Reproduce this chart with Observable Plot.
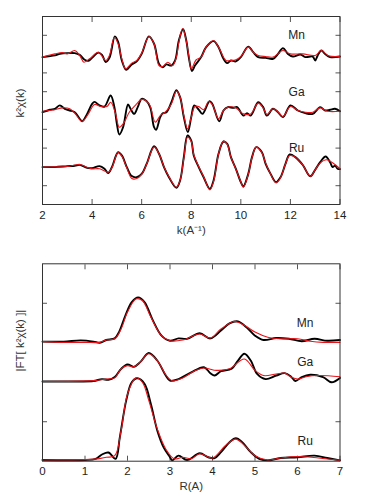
<!DOCTYPE html>
<html><head><meta charset="utf-8">
<script src="https://cdn.jsdelivr.net/npm/d3@7"></script>
<script src="https://cdn.jsdelivr.net/npm/@observablehq/plot@0.6"></script>
<style>
body{margin:0;background:#fff;}
#chart{position:relative;width:371px;height:503px;font-family:"Liberation Sans",Arial,sans-serif;}
#chart svg{position:absolute;left:0;}
</style></head><body><div id="chart"></div>
<script>
// ---------- labels / ticks ----------
const seriesNames = ["Mn", "Ga", "Ru"];
const kTicks = [2, 4, 6, 8, 10, 12, 14];
const chiTicks = [1, 3, 4, 6, 7, 9];
const rTicks = [0, 1, 2, 3, 4, 5, 6, 7];
const ftTicks = [1, 4];
const chiOffsets = [8, 5, 2];
const ftOffsets = [3, 2, 0];
const chiLabelK = 12.25;
const ftLabelR = 6.18;

// ---------- k^2 chi(k): [k, value] (experiment = black, fit = red) ----------
const mnChiExp = [[2,-0.16],[2.5,-0.07],[2.7,0.01],[3.0,0.05],[3.3,0.05],[3.5,-0.04],[3.7,-0.30],[3.85,-0.36],[4.0,-0.20],[4.25,0.08],[4.4,-0.04],[4.55,-0.42],[4.7,-0.20],[4.92,0.94],[5.05,0.65],[5.2,-0.34],[5.38,-0.84],[5.6,-0.55],[5.8,-0.39],[6.0,0.01],[6.29,0.94],[6.5,0.55],[6.7,-0.52],[6.85,-0.70],[7.0,-0.55],[7.2,-0.61],[7.35,-0.34],[7.5,0.72],[7.67,1.32],[7.8,0.72],[7.9,-0.16],[8.03,-0.90],[8.15,-0.61],[8.4,-0.16],[8.6,0.37],[8.9,0.69],[9.1,0.37],[9.3,-0.25],[9.45,-0.48],[9.6,-0.34],[9.8,-0.39],[10.0,-0.16],[10.3,0.40],[10.5,0.10],[10.7,-0.16],[11.0,-0.20],[11.3,-0.25],[11.5,0.01],[11.7,0.32],[11.9,0.01],[12.1,-0.13],[12.4,-0.02],[12.6,-0.16],[12.9,-0.13],[13.0,-0.34],[13.1,-0.07],[13.25,0.19],[13.4,0.01],[13.6,-0.16],[14,-0.13]];
const mnChiFit = [[2,-0.16],[2.5,0.01],[2.8,0.08],[3.0,0.01],[3.3,0.19],[3.5,-0.07],[3.67,-0.43],[3.9,-0.25],[4.25,0.10],[4.55,-0.34],[4.7,-0.07],[4.9,0.90],[5.05,0.55],[5.2,-0.25],[5.35,-0.78],[5.6,-0.48],[5.8,-0.34],[6.0,0.05],[6.3,0.94],[6.5,0.55],[6.7,-0.61],[6.85,-0.66],[7.05,-0.43],[7.25,-0.61],[7.4,-0.16],[7.5,0.63],[7.65,1.36],[7.8,0.69],[7.9,-0.07],[8.0,-0.78],[8.2,-0.30],[8.4,-0.16],[8.6,0.37],[8.9,0.72],[9.1,0.37],[9.4,-0.34],[9.6,-0.34],[9.8,-0.30],[10.0,-0.13],[10.3,0.37],[10.5,0.10],[10.7,-0.07],[11.0,-0.13],[11.3,-0.16],[11.7,0.19],[12.0,0.01],[12.5,0.01],[13.0,-0.07],[13.25,0.19],[13.5,-0.07],[14,-0.13]];
const gaChiExp = [[2,-0.09],[2.3,0.04],[2.5,0.09],[2.7,0.27],[2.9,0.09],[3.1,0],[3.3,-0.09],[3.5,-0.44],[3.6,-0.57],[3.8,-0.18],[4.0,0.35],[4.1,0.46],[4.3,0.27],[4.5,0.21],[4.75,0.80],[4.9,0.18],[5.0,-0.71],[5.1,-1.28],[5.25,-0.89],[5.45,0.32],[5.55,0.09],[5.7,-0.18],[5.85,0.21],[6.0,0.62],[6.2,0.50],[6.35,0.15],[6.5,-0.89],[6.58,-1.03],[6.75,-0.35],[6.85,-0.15],[7.0,-0.09],[7.2,0.44],[7.4,1.08],[7.55,0.71],[7.7,-0.35],[7.86,-1.15],[8.0,-0.35],[8.12,0.27],[8.3,0.05],[8.45,-0.18],[8.74,0.50],[8.85,0.35],[9.13,-0.58],[9.3,0],[9.48,0.18],[9.7,0.14],[9.85,0.18],[10.1,-0.27],[10.25,-0.14],[10.4,-0.27],[10.7,0.44],[10.9,0.18],[11.05,-0.27],[11.3,0.09],[11.5,-0.09],[11.7,-0.35],[12.0,0.27],[12.3,0],[12.6,-0.14],[12.9,-0.18],[13.2,0.18],[13.4,0],[13.6,0.04],[13.8,0.09],[14,-0.04]];
const gaChiFit = [[2,-0.04],[2.5,0.04],[2.8,0.14],[3.1,0.09],[3.3,-0.14],[3.6,-0.57],[3.85,-0.18],[4.1,0.32],[4.35,0.21],[4.6,0.21],[4.75,0.44],[4.95,-0.18],[5.1,-0.89],[5.3,-0.62],[5.5,-0.09],[5.8,0.35],[6.0,0.59],[6.3,0.35],[6.55,-0.62],[6.75,-0.27],[6.95,-0.09],[7.2,0.35],[7.4,1.03],[7.55,0.71],[7.7,-0.27],[7.85,-0.98],[8.0,-0.35],[8.15,0.21],[8.3,0.21],[8.5,0.04],[8.7,0.48],[8.85,0.32],[9.1,-0.44],[9.3,0],[9.5,0.18],[9.8,0.14],[10.1,-0.18],[10.4,-0.18],[10.7,0.39],[10.9,0.14],[11.05,-0.21],[11.3,0.09],[11.5,-0.09],[11.7,-0.32],[12.0,0.21],[12.3,0],[12.6,-0.09],[12.9,-0.09],[13.2,0.14],[13.5,-0.04],[14,-0.04]];
const ruChiExp = [[2,-0.01],[2.5,-0.01],[3.0,0.04],[3.3,0.06],[3.5,0.11],[3.8,-0.05],[4.0,-0.07],[4.3,0.04],[4.5,-0.10],[4.65,-0.33],[4.8,-0.01],[5.05,0.78],[5.2,0.61],[5.4,-0.01],[5.6,-0.49],[5.8,-0.55],[6.0,-0.37],[6.2,0.16],[6.5,1.10],[6.7,0.70],[6.9,-0.01],[7.1,-0.55],[7.4,-1.11],[7.55,-0.72],[7.7,0.52],[7.85,1.67],[8.0,1.40],[8.1,0.61],[8.3,-0.01],[8.5,-0.55],[8.75,-1.17],[8.9,-0.72],[9.1,0.70],[9.3,1.35],[9.45,1.23],[9.6,0.52],[9.8,-0.10],[10.0,-0.81],[10.1,-1.04],[10.3,-0.37],[10.45,0.52],[10.62,1.05],[10.85,0.78],[11.0,0.16],[11.2,-0.37],[11.42,-0.81],[11.6,-0.55],[11.8,0.16],[11.97,0.66],[12.2,0.52],[12.5,0.10],[12.8,-0.50],[13.0,-0.15],[13.2,0.25],[13.42,0.55],[13.6,0.25],[13.7,-0.01],[13.8,0.07],[13.9,-0.10],[14,-0.12]];
const ruChiFit = [[2,-0.01],[2.5,0.0],[3.0,0.02],[3.5,0.13],[3.8,-0.02],[4.0,-0.10],[4.3,-0.10],[4.65,-0.28],[4.8,-0.05],[5.05,0.78],[5.2,0.58],[5.4,-0.05],[5.6,-0.62],[5.8,-0.62],[6.0,-0.40],[6.2,0.14],[6.5,1.05],[6.7,0.70],[6.9,0.0],[7.1,-0.52],[7.4,-1.08],[7.55,-0.72],[7.7,0.45],[7.85,1.58],[8.0,1.35],[8.1,0.65],[8.3,0.02],[8.5,-0.52],[8.75,-1.22],[8.9,-0.78],[9.1,0.68],[9.3,1.37],[9.45,1.20],[9.6,0.52],[9.8,-0.12],[10.0,-0.80],[10.1,-1.08],[10.3,-0.40],[10.45,0.50],[10.62,1.05],[10.85,0.75],[11.0,0.20],[11.2,-0.38],[11.42,-0.85],[11.6,-0.58],[11.8,0.15],[11.97,0.60],[12.2,0.52],[12.5,0.10],[12.8,-0.50],[13.0,-0.15],[13.2,0.20],[13.45,0.38],[13.7,0.22],[14,-0.10]];

// ---------- |FT| : [R, value] ----------
const mnFtExp = [[0,0.03],[0.5,0.03],[0.9,0.06],[1.2,0.03],[1.35,0.0],[1.5,0.07],[1.7,0.11],[1.8,0.27],[1.95,0.69],[2.1,1.03],[2.25,1.15],[2.4,1.03],[2.6,0.56],[2.8,0.18],[3.0,0.05],[3.2,0.11],[3.4,0.10],[3.7,0.24],[3.95,0.11],[4.2,0.31],[4.4,0.49],[4.6,0.54],[4.8,0.39],[5.0,0.18],[5.2,0.07],[5.5,0.12],[5.8,0.10],[6.1,0.04],[6.4,0.10],[6.7,0.05],[7,0.07]];
const mnFtFit = [[0,0.03],[0.5,0.01],[1.0,0.01],[1.35,0.01],[1.5,0.07],[1.7,0.10],[1.85,0.35],[2.0,0.78],[2.2,1.11],[2.35,1.07],[2.55,0.65],[2.8,0.18],[3.0,0.05],[3.3,0.07],[3.7,0.22],[3.95,0.12],[4.2,0.35],[4.5,0.54],[4.6,0.52],[4.8,0.41],[5.0,0.27],[5.3,0.14],[5.6,0.10],[6.0,0.10],[6.3,0.04],[6.6,0.01],[7,0.01]];
const gaFtExp = [[0,0.02],[0.8,0.02],[1.2,0.03],[1.4,0.08],[1.55,0.06],[1.7,0.13],[1.85,0.34],[2.0,0.45],[2.15,0.39],[2.3,0.51],[2.5,0.74],[2.7,0.55],[2.9,0.17],[3.0,0.04],[3.2,0.08],[3.5,0.25],[3.8,0.38],[3.95,0.23],[4.05,0.17],[4.2,0.28],[4.45,0.34],[4.6,0.55],[4.75,0.72],[4.9,0.55],[5.05,0.21],[5.25,0.08],[5.5,0.17],[5.7,0.23],[5.85,0.14],[5.95,0.03],[6.1,0.13],[6.3,0.19],[6.6,0.13],[6.8,0.0],[7,0.11]];
const gaFtFit = [[0,0.02],[1.2,0.04],[1.5,0.08],[1.7,0.11],[1.85,0.34],[2.0,0.42],[2.15,0.39],[2.3,0.51],[2.5,0.72],[2.7,0.55],[2.9,0.19],[3.05,0.04],[3.3,0.11],[3.6,0.30],[3.8,0.36],[4.1,0.30],[4.4,0.34],[4.75,0.59],[5.0,0.30],[5.2,0.17],[5.5,0.21],[5.7,0.23],[5.85,0.13],[6.0,0.08],[6.2,0.14],[6.5,0.17],[7,0.14]];
const ruFtExp = [[0,0.03],[1.0,0.03],[1.25,0.06],[1.4,0.17],[1.55,0.22],[1.72,0.06],[1.82,0.61],[1.97,1.54],[2.1,2.0],[2.23,2.1],[2.4,1.96],[2.55,1.45],[2.7,0.78],[2.85,0.35],[3.0,0.10],[3.05,0.02],[3.2,0.14],[3.4,0.03],[3.7,0.20],[3.9,0.10],[4.05,0.08],[4.2,0.23],[4.4,0.48],[4.55,0.58],[4.7,0.48],[4.9,0.23],[5.1,0.06],[5.3,0.02],[5.6,0.08],[6.0,0.10],[6.4,0.14],[6.7,0.08],[7.0,0.02]];
const ruFtFit = [[0,0.03],[1.3,0.06],[1.5,0.10],[1.7,0.14],[1.85,0.78],[2.0,1.70],[2.2,2.11],[2.35,2.0],[2.5,1.54],[2.7,0.82],[2.9,0.31],[3.1,0.06],[3.3,0.10],[3.5,0.06],[3.7,0.19],[4.0,0.08],[4.3,0.39],[4.55,0.56],[4.8,0.35],[5.0,0.14],[5.3,0.03],[5.6,0.08],[6.0,0.12],[6.5,0.08],[7.0,0.02]];

// ---------- build ----------
function rows(pairs, offset, name, kind) {
  return pairs.map(([x, v]) => ({x, y: v + offset, name, kind}));
}
const chiExp = [mnChiExp, gaChiExp, ruChiExp];
const chiFit = [mnChiFit, gaChiFit, ruChiFit];
const ftExp = [mnFtExp, gaFtExp, ruFtExp];
const ftFit = [mnFtFit, gaFtFit, ruFtFit];

function panel({exp, fit, offsets, xTicks, yTicks, xDomain, yDomain, labelX, labelDy, xLabel, yLabel, yLabelDy, height, marginTop, marginBottom}) {
  const blackRows = exp.flatMap((p, i) => rows(p, offsets[i], seriesNames[i], "exp"));
  const redRows = fit.flatMap((p, i) => rows(p, offsets[i], seriesNames[i], "fit"));
  const labels = seriesNames.map((n, i) => ({n, x: labelX, y: offsets[i] + labelDy}));
  const tickStyle = {stroke: "#555", tickSize: -5, tickFormat: () => "", label: null};
  return Plot.plot({
    width: 371, height,
    marginLeft: 42, marginRight: 31.5, marginTop, marginBottom,
    style: {fontFamily: "Liberation Sans, Arial, sans-serif", fontSize: "11px", color: "#222", background: "#fff"},
    x: {domain: xDomain},
    y: {domain: yDomain},
    marks: [
      Plot.axisX(xTicks, {anchor: "bottom", ...tickStyle}),
      Plot.axisX(xTicks, {anchor: "top", ...tickStyle}),
      Plot.axisY(yTicks, {anchor: "left", ...tickStyle}),
      Plot.axisY(yTicks, {anchor: "right", ...tickStyle}),
      Plot.axisX(xTicks, {anchor: "bottom", tickSize: 0, tickPadding: 6, fontSize: 11.5, label: null}),
      Plot.line(blackRows, {x: "x", y: "y", z: "name", stroke: "#000", strokeWidth: 1.9, curve: "catmull-rom"}),
      Plot.line(redRows, {x: "x", y: "y", z: "name", stroke: "#e8141a", strokeWidth: 1.1, curve: "catmull-rom"}),
      Plot.text(labels, {x: "x", y: "y", text: "n", fontSize: 12, fill: "#222"}),
      Plot.frame({stroke: "#333", strokeWidth: 1}),
      Plot.text([xLabel], {frameAnchor: "bottom", dy: 29, fontSize: 11.5, fill: "#333"}),
      Plot.text([yLabel], {frameAnchor: "left", dx: -22, dy: yLabelDy, rotate: -90, fontSize: 11.5, fill: "#333"})
    ]
  });
}

const topPanel = panel({
  exp: chiExp, fit: chiFit, offsets: chiOffsets, xTicks: kTicks, yTicks: chiTicks,
  xDomain: [2, 14], yDomain: [0, 10], labelX: chiLabelK, labelDy: 1,
  xLabel: "k(A⁻¹)", yLabel: "k²χ(k)", yLabelDy: 7,
  height: 250, marginTop: 16, marginBottom: 46
});
const bottomPanel = panel({
  exp: ftExp, fit: ftFit, offsets: ftOffsets, xTicks: rTicks, yTicks: ftTicks,
  xDomain: [0, 7], yDomain: [0, 5], labelX: ftLabelR, labelDy: 0.5,
  xLabel: "R(A)", yLabel: "|FT[ k²χ(k) ]|", yLabelDy: 9,
  height: 253, marginTop: 13.3, marginBottom: 42.3
});
topPanel.style.top = "0px";
bottomPanel.style.top = "250px";
const c = document.getElementById("chart");
c.appendChild(topPanel);
c.appendChild(bottomPanel);
</script></body></html>
